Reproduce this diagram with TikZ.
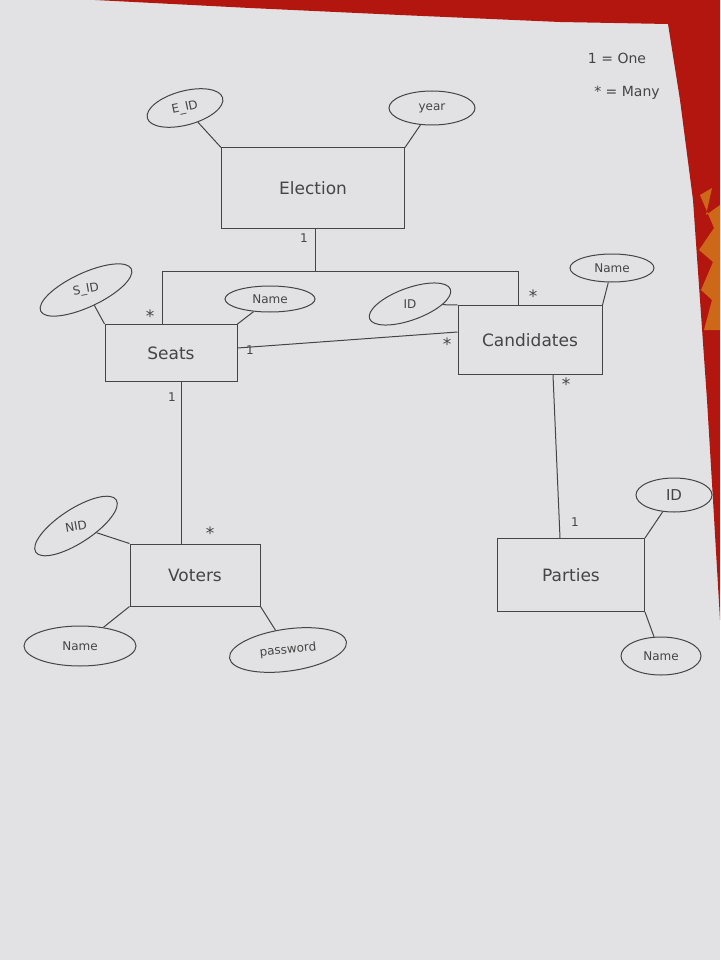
\documentclass[tikz,border=0pt]{standalone}
\usepackage{fontspec}
\setmainfont{DejaVu Sans}
\usetikzlibrary{shapes.geometric}
\definecolor{paper}{HTML}{E2E1E3}
\definecolor{ink}{HTML}{454545}
\definecolor{tablered}{HTML}{B3150F}
\definecolor{flame}{HTML}{E0A020}
\tikzset{
  entity/.style={draw=ink, line width=1pt, rectangle, text=ink, font=\fontsize{17}{20}\selectfont, inner sep=0pt},
  attr/.style={draw=ink, line width=1pt, ellipse, inner sep=0pt},
  attrtext/.style={text=ink, font=\fontsize{12}{14}\selectfont, inner sep=0pt},
  link/.style={draw=ink, line width=1pt},
  card/.style={text=ink, font=\fontsize{12}{14}\selectfont, inner sep=0pt},
  many/.style={text=ink, font=\fontsize{17}{17}\selectfont, inner sep=0pt}
}
\begin{document}
\begin{tikzpicture}[x=1pt,y=-1pt]
\useasboundingbox (0,0) rectangle (720,960);
\fill[paper] (0,0) rectangle (720,960);
\fill[tablered] (95,0) -- (250,8) -- (400,15) -- (560,22) -- (668,24) -- (680,100) -- (693,200) -- (707,400) -- (713,500) -- (720,620) -- (720,0) -- cycle;
\fill[flame, opacity=0.6] (700,195) -- (712,188) -- (706,215) -- (720,205) -- (720,330) -- (704,330) -- (712,300) -- (701,290) -- (713,262) -- (699,250) -- (714,228) -- cycle;

% entities
\node[entity, minimum width=183pt, minimum height=80pt] (election) at (313,188) {Election};
\node[entity, minimum width=132pt, minimum height=57pt] (seats) at (171,353) {Seats};
\node[entity, minimum width=144pt, minimum height=69pt] (cand) at (530,340) {Candidates};
\node[entity, minimum width=130pt, minimum height=62pt] (voters) at (195,575) {Voters};
\node[entity, minimum width=147pt, minimum height=73pt] (parties) at (571,575) {Parties};

% attributes (outline + text)
\node[attr, minimum width=78pt, minimum height=34pt, rotate=15] (eid) at (185,108) {};
\node[attrtext, rotate=12] (eidt) at (eid) {E\_ID};
\node[attr, minimum width=86pt, minimum height=34pt] (year) at (432,108) {};
\node[attrtext] (yeart) at (year) {year};
\node[attr, minimum width=100pt, minimum height=34pt, rotate=25] (sid) at (86,290) {};
\node[attrtext, rotate=10] (sidt) at (sid) {S\_ID};
\node[attr, minimum width=90pt, minimum height=26pt] (sname) at (270,299) {};
\node[attrtext] (snamet) at (sname) {Name};
\node[attr, minimum width=86pt, minimum height=32pt, rotate=20] (cid) at (410,304) {};
\node[attrtext] (cidt) at (cid) {ID};
\node[attr, minimum width=84pt, minimum height=28pt] (cname) at (612,268) {};
\node[attrtext] (cnamet) at (cname) {Name};
\node[attr, minimum width=96pt, minimum height=34pt, rotate=33] (nid) at (76,526) {};
\node[attrtext, rotate=10] (nidt) at (nid) {NID};
\node[attr, minimum width=112pt, minimum height=40pt] (vname) at (80,646) {};
\node[attrtext] (vnamet) at (vname) {Name};
\node[attr, minimum width=118pt, minimum height=42pt, rotate=8] (pass) at (288,650) {};
\node[attrtext, rotate=6] (passt) at (pass) {password};
\node[attr, minimum width=76pt, minimum height=34pt] (pid) at (674,495) {};
\node[attrtext, font=\fontsize{15}{17}\selectfont] (pidt) at (pid) {ID};
\node[attr, minimum width=80pt, minimum height=38pt] (pname) at (661,656) {};
\node[attrtext] (pnamet) at (pname) {Name};

% attribute links
\draw[link] (eid) -- (election.north west);
\draw[link] (year) -- (election.north east);
\draw[link] (sid) -- (seats.north west);
\draw[link] (sname) -- (seats.north east);
\draw[link] (cid) -- (cand.north west);
\draw[link] (cname) -- (cand.north east);
\draw[link] (nid) -- (voters.north west);
\draw[link] (vname) -- (voters.south west);
\draw[link] (pass) -- (voters.south east);
\draw[link] (pid) -- (parties.north east);
\draw[link] (pname) -- (parties.south east);

% relationships
\coordinate (j) at (315,271);
\coordinate (jl) at (162,271);
\coordinate (jr) at (518,271);
\draw[link] (election.south -| j) -- (j);
\draw[link] (jl) -- (jr);
\draw[link] (jl) -- (jl |- seats.north);
\draw[link] (jr) -- (jr |- cand.north);
\draw[link] ([yshift=5pt]seats.east) -- ([yshift=8pt]cand.west);
\draw[link] (seats.south -| 181,0) -- (voters.north -| 181,0);
\draw[link] (cand.south -| 553,0) -- (parties.north -| 560,0);

% cardinalities
\node[card] (c1) at (304,238) {1};
\node[many] (c2) at (150,316) {*};
\node[many] (c3) at (533,296) {*};
\node[card] (c4) at (250,350) {1};
\node[many] (c5) at (447,344) {*};
\node[card] (c6) at (172,397) {1};
\node[many] (c7) at (210,533) {*};
\node[many] (c8) at (566,384) {*};
\node[card] (c9) at (575,522) {1};

% legend
\node[card, font=\fontsize{14}{16}\selectfont] (leg1) at (617,58) {1 = One};
\node[card, font=\fontsize{14}{16}\selectfont] (leg2) at (627,93) {* = Many};
\end{tikzpicture}
\end{document}
